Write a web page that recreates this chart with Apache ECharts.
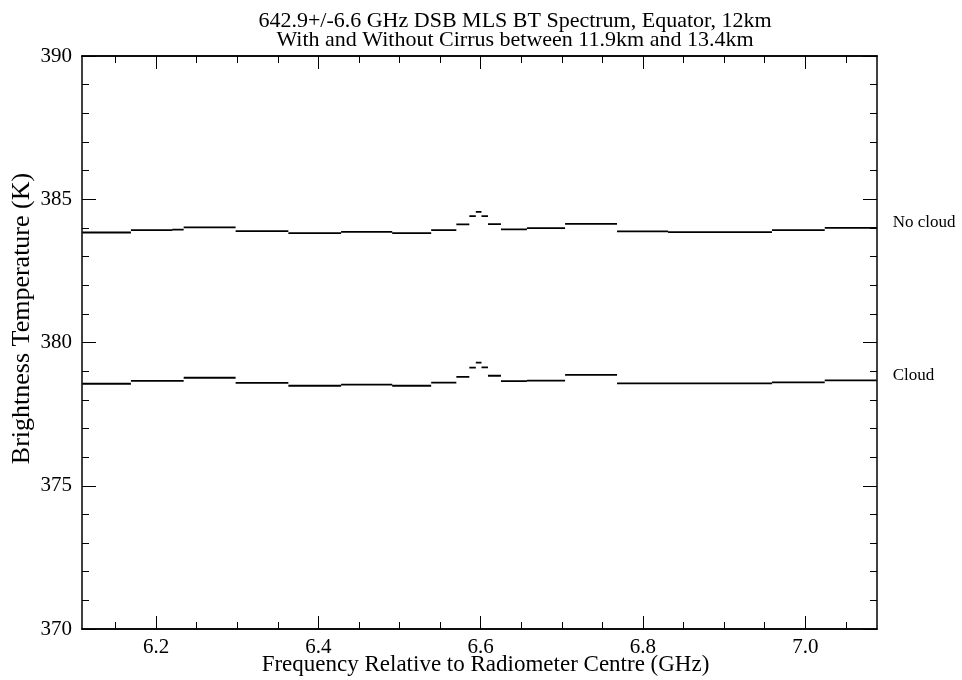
<!DOCTYPE html>
<html>
<head>
<meta charset="utf-8">
<script src="https://cdn.jsdelivr.net/npm/echarts@6/dist/echarts.min.js"></script>
<style>
  html, body { margin: 0; padding: 0; background: #fff; }
  #chart { width: 962px; height: 680px; }
</style>
</head>
<body>
<div id="chart"></div>
<script>
// Filterbank channel edges (GHz relative to radiometer centre)
const channelLo = [6.109, 6.169, 6.220, 6.234, 6.298, 6.363, 6.428, 6.491, 6.539, 6.570, 6.586,
                   6.594, 6.601, 6.609, 6.625, 6.657, 6.704, 6.768, 6.831, 6.959, 7.024];
const channelHi = [6.169, 6.220, 6.234, 6.298, 6.363, 6.428, 6.491, 6.539, 6.570, 6.586, 6.594,
                   6.601, 6.609, 6.625, 6.657, 6.704, 6.768, 6.831, 6.959, 7.024, 7.088];

// Channel brightness temperatures (K)
const noCloudBT = [383.84, 383.92, 383.94, 384.02, 383.89, 383.82, 383.86, 383.82, 383.92, 384.12, 384.41,
                   384.56, 384.41, 384.13, 383.95, 383.99, 384.14, 383.88, 383.85, 383.92, 384.00];
const cloudBT   = [378.56, 378.66, 378.66, 378.77, 378.59, 378.49, 378.53, 378.49, 378.60, 378.80, 379.12,
                   379.30, 379.13, 378.84, 378.65, 378.67, 378.87, 378.57, 378.57, 378.61, 378.68];

// Axis ranges and tick values
const xRange = [6.1087, 7.0884];
const xMajorTicks = [6.2, 6.4, 6.6, 6.8, 7.0];
const xMinorTicks = [6.15, 6.2, 6.25, 6.3, 6.35, 6.4, 6.45, 6.5, 6.55, 6.6, 6.65,
                     6.7, 6.75, 6.8, 6.85, 6.9, 6.95, 7.0, 7.05];
const yRange = [370, 390];
const yStep = 5;

const seriesNames = ['No cloud', 'Cloud'];

// Each channel is a flat segment; gaps between channels break the line
function channelSegments(values) {
  const pts = [];
  values.forEach((v, i) => {
    if (i > 0) pts.push([channelLo[i], '-']);
    pts.push([channelLo[i], v]);
    pts.push([channelHi[i], v]);
  });
  return pts;
}

const FONT = 'Liberation Serif';
const INK = '#000';

function xAxisDef(pos, ticks, len, labels) {
  return {
    type: 'value', position: pos, min: xRange[0], max: xRange[1],
    axisLine: { show: true, onZero: false, lineStyle: { color: INK, width: 1.5 } },
    axisTick: { show: true, inside: true, length: len, customValues: ticks, lineStyle: { color: INK, width: 1 } },
    axisLabel: labels ? {
      show: true, customValues: xMajorTicks, margin: 8,
      fontFamily: FONT, fontSize: 21, color: INK,
      formatter: v => v.toFixed(1)
    } : { show: false },
    splitLine: { show: false }
  };
}

function yAxisDef(pos, labels) {
  return {
    type: 'value', position: pos, min: yRange[0], max: yRange[1], interval: yStep,
    axisLine: { show: true, onZero: false, lineStyle: { color: INK, width: 1.5 } },
    axisTick: { show: true, inside: true, length: 14, lineStyle: { color: INK, width: 1 } },
    minorTick: { show: true, splitNumber: 5, length: 7, lineStyle: { color: INK, width: 1 } },
    axisLabel: labels ? { show: true, margin: 10, fontFamily: FONT, fontSize: 21, color: INK } : { show: false },
    splitLine: { show: false },
    minorSplitLine: { show: false }
  };
}

const xAxes = [
  xAxisDef('bottom', xMinorTicks, 7, true),
  xAxisDef('bottom', xMajorTicks, 13, false),
  xAxisDef('top', xMinorTicks, 7, false),
  xAxisDef('top', xMajorTicks, 13, false)
];
Object.assign(xAxes[0], {
  name: 'Frequency Relative to Radiometer Centre (GHz)',
  nameLocation: 'middle', nameGap: 24, nameMoveOverlap: false,
  nameTextStyle: { fontFamily: FONT, fontSize: 23, color: INK, padding: [0, 0, 0, 12] }
});

const yAxes = [yAxisDef('left', true), yAxisDef('right', false)];
Object.assign(yAxes[0], {
  name: 'Brightness Temperature (K)',
  nameLocation: 'middle', nameGap: 47, nameMoveOverlap: false,
  nameTextStyle: { fontFamily: FONT, fontSize: 26, color: INK, padding: [0, 0, 0, 48] }
});

function lineSeries(name, values) {
  return {
    name, type: 'line', xAxisIndex: 0, yAxisIndex: 0,
    data: channelSegments(values),
    showSymbol: false, connectNulls: false, animation: false,
    lineStyle: { color: INK, width: 1.8 },
    endLabel: {
      show: true, formatter: name, distance: 16, offset: [0, -5],
      fontFamily: FONT, fontSize: 17, color: INK
    }
  };
}

const chart = echarts.init(document.getElementById('chart'), null, { renderer: 'canvas' });
chart.setOption({
  backgroundColor: '#fff',
  animation: false,
  title: {
    text: '642.9+/-6.6 GHz DSB MLS BT Spectrum, Equator, 12km\nWith and Without Cirrus between 11.9km and 13.4km',
    left: 510, top: 7, textAlign: 'center',
    textStyle: { fontFamily: FONT, fontSize: 22, fontWeight: 'normal', color: INK, lineHeight: 19 }
  },
  grid: { left: 82, right: 85, top: 56, bottom: 51, containLabel: false, outerBoundsMode: 'none' },
  xAxis: xAxes,
  yAxis: yAxes,
  series: [lineSeries(seriesNames[0], noCloudBT), lineSeries(seriesNames[1], cloudBT)]
});
</script>
</body>
</html>
